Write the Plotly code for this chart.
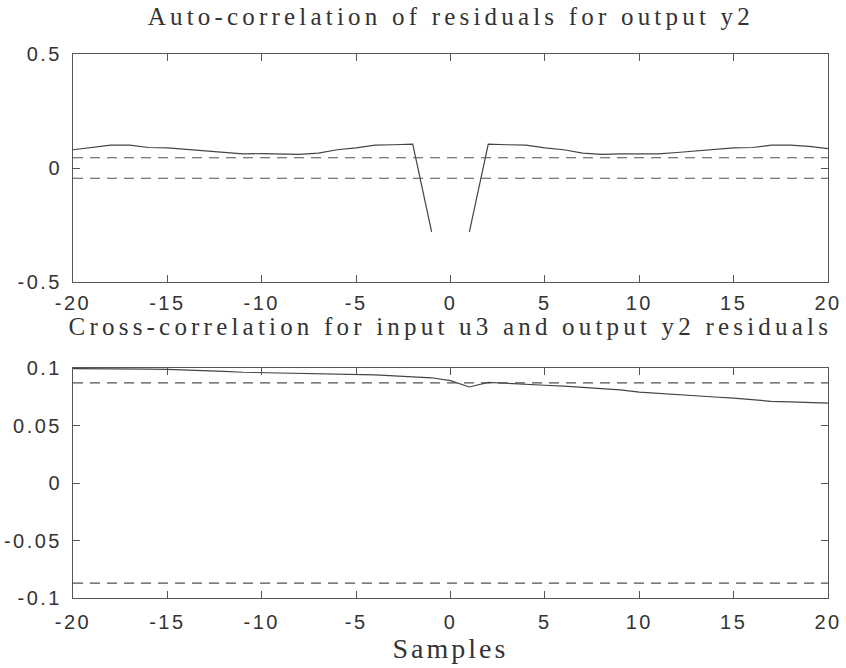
import plotly.graph_objects as go

lags = list(range(-20, 21))

auto_corr = [0.080, 0.090, 0.100, 0.100, 0.090, 0.088, 0.082, 0.075, 0.068, 0.062,
             0.063, 0.062, 0.060, 0.065, 0.080, 0.088, 0.100, 0.102, 0.105, -0.280,
             None,
             -0.280, 0.105, 0.102, 0.100, 0.088, 0.080, 0.065, 0.060, 0.062, 0.063,
             0.062, 0.068, 0.075, 0.082, 0.088, 0.090, 0.100, 0.100, 0.095, 0.085]
auto_conf = 0.045

cross_corr = [0.0995, 0.0995, 0.0993, 0.0993, 0.0990, 0.0988, 0.0980, 0.0975, 0.0970, 0.0963,
              0.0960, 0.0958, 0.0955, 0.0953, 0.0945, 0.0942, 0.0940, 0.0932, 0.0925, 0.0915,
              0.0890,
              0.0835, 0.0875, 0.0865, 0.0860, 0.0850, 0.0842, 0.0832, 0.0820, 0.0810, 0.0790,
              0.0778, 0.0768, 0.0760, 0.0748, 0.0738, 0.0725, 0.0710, 0.0705, 0.0700, 0.0695]
cross_conf = 0.087

top_title = "Auto-correlation of residuals for output y2"
bottom_title = "Cross-correlation for input u3 and output y2 residuals"
x_label = "Samples"
x_ticks = [-20, -15, -10, -5, 0, 5, 10, 15, 20]
x_ticktext = ["-20", "-15", "-10", "-5", "0", "5", "10", "15", "20"]
top_yticks = [-0.5, 0, 0.5]
top_yticktext = ["-0.5", "0", "0.5"]
bottom_yticks = [-0.1, -0.05, 0, 0.05, 0.1]
bottom_yticktext = ["-0.1", "-0.05", "0", "0.05", "0.1"]

line_col = "#444444"
dash_col = "#505050"
dash = "10px,7px"

fig = go.Figure()
xr = [lags[0], lags[-1]]

fig.add_trace(go.Scatter(x=lags, y=auto_corr, mode="lines", line=dict(color=line_col, width=1.2),
                         xaxis="x", yaxis="y", connectgaps=False))
for s in (1, -1):
    fig.add_trace(go.Scatter(x=xr, y=[s * auto_conf] * 2, mode="lines",
                             line=dict(color=dash_col, width=1.2, dash=dash), xaxis="x", yaxis="y"))

fig.add_trace(go.Scatter(x=lags, y=cross_corr, mode="lines", line=dict(color=line_col, width=1.2),
                         xaxis="x2", yaxis="y2"))
for s in (1, -1):
    fig.add_trace(go.Scatter(x=xr, y=[s * cross_conf] * 2, mode="lines",
                             line=dict(color=dash_col, width=1.2, dash=dash), xaxis="x2", yaxis="y2"))

W, H = 846, 668
ML, MR, MT, MB = 73, 18, 54, 70
PH = H - MT - MB


def py(px):
    # pixel row -> paper fraction of the plot area
    return (H - MB - px) / PH


tick_font = dict(family="Liberation Sans, Arial, sans-serif", size=20, color="#333333")
axis_common = dict(showline=True, mirror="ticks", linecolor="#555555", linewidth=1,
                   ticks="inside", ticklen=7, tickcolor="#555555", showgrid=False,
                   zeroline=False, tickfont=tick_font)

fig.update_layout(
    width=W, height=H,
    margin=dict(l=ML, r=MR, t=MT, b=MB, autoexpand=False),
    paper_bgcolor="white", plot_bgcolor="white",
    showlegend=False,
    xaxis=dict(domain=[0, 1], range=xr, tickvals=x_ticks, ticktext=x_ticktext, anchor="y",
               ticklabelstandoff=3, **axis_common),
    yaxis=dict(domain=[py(282), py(54)], range=[-0.5, 0.5], tickvals=top_yticks,
               ticktext=top_yticktext, anchor="x", ticklabelstandoff=6, **axis_common),
    xaxis2=dict(domain=[0, 1], range=xr, tickvals=x_ticks, ticktext=x_ticktext, anchor="y2",
                ticklabelstandoff=6, **axis_common),
    yaxis2=dict(domain=[py(598), py(368)], range=[-0.1, 0.1], tickvals=bottom_yticks,
                ticktext=bottom_yticktext, anchor="x2", ticklabelstandoff=6, **axis_common),
)

serif_title = dict(family="Liberation Serif, Times New Roman, serif", size=25, color="#333333")
serif_label = dict(family="Liberation Serif, Times New Roman, serif", size=28, color="#333333")
fig.add_annotation(text=top_title, xref="paper", yref="paper", x=0.5, y=py(16),
                   showarrow=False, font=serif_title, xanchor="center", yanchor="middle")
fig.add_annotation(text=bottom_title, xref="paper", yref="paper", x=0.5, y=py(326),
                   showarrow=False, font=serif_title, xanchor="center", yanchor="middle")
fig.add_annotation(text=x_label, xref="paper", yref="paper", x=0.5, y=py(648),
                   showarrow=False, font=serif_label, xanchor="center", yanchor="middle")

# widen letter spacing like the original MATLAB print
post = """
function spaceOut(){
  var spacing = [4.2, 4.2, 3];
  document.querySelectorAll('.annotation-text').forEach(function(e, i){
    e.style.letterSpacing = (spacing[i] || 3) + 'px';
  });
  document.querySelectorAll('.xtick text, .x2tick text, .ytick text, .y2tick text').forEach(function(e){
    e.style.letterSpacing = '2.5px';
  });
}
spaceOut();
setTimeout(spaceOut, 50);
setTimeout(spaceOut, 300);
"""
fig.write_html("out.html", post_script=post)
